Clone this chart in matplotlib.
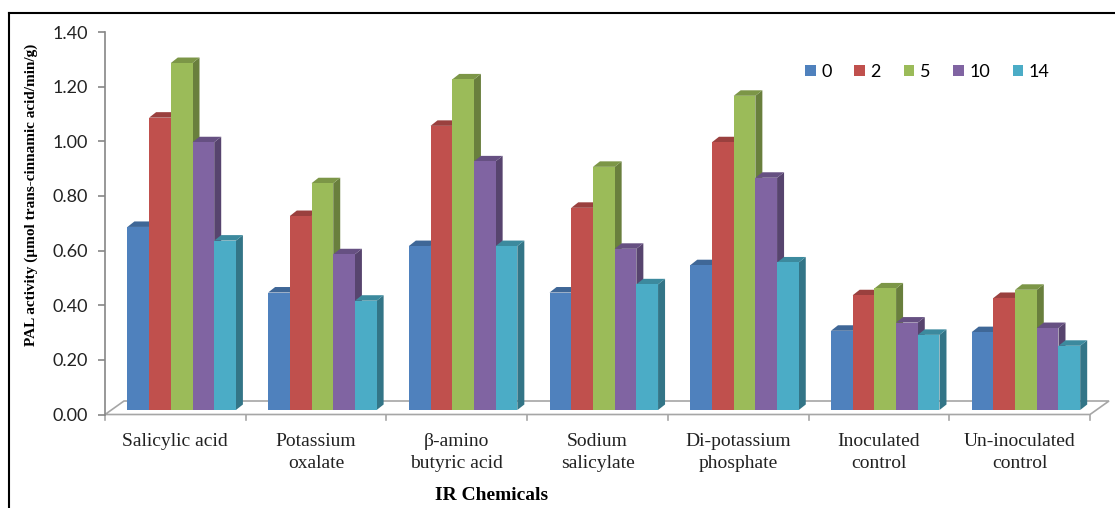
import matplotlib.pyplot as plt
from matplotlib.patches import Polygon, Patch
from matplotlib.lines import Line2D
import numpy as np

# Treatments (x axis) and sampling days (series)
chemicals = ['Salicylic acid', 'Potassium\noxalate', 'β-amino\nbutyric acid', 'Sodium\nsalicylate',
             'Di-potassium\nphosphate', 'Inoculated\ncontrol', 'Un-inoculated\ncontrol']
days = ['0', '2', '5', '10', '14']

# PAL activity per day, one value per chemical
day0 = [0.67, 0.43, 0.60, 0.43, 0.53, 0.29, 0.285]
day2 = [1.07, 0.71, 1.04, 0.74, 0.98, 0.42, 0.41]
day5 = [1.27, 0.83, 1.21, 0.89, 1.15, 0.445, 0.44]
day10 = [0.98, 0.57, 0.91, 0.59, 0.85, 0.32, 0.30]
day14 = [0.62, 0.40, 0.60, 0.46, 0.54, 0.275, 0.235]
series = [day0, day2, day5, day10, day14]

colors = ['#4F81BD', '#C0504D', '#9BBB59', '#8064A2', '#4BACC6']

W, H = 1115, 508
fig = plt.figure(figsize=(W / 100, H / 100), dpi=100)

# axes placed in pixel units: x from 105 to 1090, y=0 at 414.5 and 1.4 at 32
y0_px, y1_px = 414.5, 32.0
ax = fig.add_axes([105 / W, (H - y0_px) / H, (1090 - 105) / W, (y0_px - y1_px) / H])
ax.set_xlim(0, 7)
ax.set_ylim(0, 1.4)

px_x = 7 / (1090 - 105)           # category units per pixel
px_y = 1.4 / (y0_px - y1_px)      # value units per pixel


def darken(c, f):
    r, g, b = [int(c[i:i + 2], 16) / 255 for i in (1, 3, 5)]
    return (r * f, g * f, b * f)


# floor of the 3D plot
fdx, fdy = 19 * px_x, 13.5 * px_y
floor = Polygon([(0, 0), (7, 0), (7 + fdx, fdy), (fdx, fdy)], closed=True,
                facecolor='white', edgecolor='#A6A6A6', lw=1.2, clip_on=False, zorder=1)
ax.add_patch(floor)
for k in range(8):
    ax.plot([k, k], [0, -5 * px_y], color='#A6A6A6', lw=1.2, clip_on=False, zorder=1)

# bars with front, top and side faces
bw = 21.7 * px_x
ddx, ddy = 7 * px_x, 5.5 * px_y        # depth of each bar
bx0, by0 = 6.3 * px_x, 4.5 * px_y      # bars sit part way back on the floor
gap = (1 - 5 * bw) / 2
for c in range(len(chemicals)):
    for s, vals in enumerate(series):
        v = vals[c]
        x = c + gap + bx0 + s * bw
        b = by0
        col = colors[s]
        side = Polygon([(x + bw, b), (x + bw + ddx, b + ddy), (x + bw + ddx, b + v + ddy), (x + bw, b + v)],
                       closed=True, facecolor=darken(col, 0.68), edgecolor='none', clip_on=False, zorder=2)
        top = Polygon([(x, b + v), (x + bw, b + v), (x + bw + ddx, b + v + ddy), (x + ddx, b + v + ddy)],
                      closed=True, facecolor=darken(col, 0.8), edgecolor='none', clip_on=False, zorder=2)
        ax.add_patch(side)
        ax.add_patch(top)
        ax.bar(x, v, width=bw, bottom=b, align='edge', color=col, edgecolor='none',
               clip_on=False, zorder=2)

# axes styling
for sp in ['top', 'right', 'bottom']:
    ax.spines[sp].set_visible(False)
ax.spines['left'].set_color('#868686')
ax.spines['left'].set_linewidth(1.2)
ax.set_yticks(np.arange(0, 1.41, 0.2))
ax.set_yticklabels(['%.2f' % t for t in np.arange(0, 1.41, 0.2)], fontsize=13, family='Lato',
                   color='#222222')
ax.tick_params(axis='y', direction='out', length=5, width=1.2, color='#868686', pad=7)
ax.set_xticks([])

for c, name in enumerate(chemicals):
    ax.text(c + 0.5, -18 * px_y, name, ha='center', va='top', fontsize=14, color='#222222',
            family='Liberation Serif', linespacing=1.4, clip_on=False)

fig.text(492 / W, 1 - 495 / H, 'IR Chemicals', ha='center', va='center', fontsize=14,
         fontweight='bold', family='Liberation Serif')
fig.text(31 / W, 1 - 195 / H, 'PAL activity (µmol trans-cinnamic acid/min/g)', ha='center',
         va='center', rotation=90, fontsize=11, fontweight='bold', family='Liberation Serif')

handles = [Patch(facecolor=col, edgecolor='none') for col in colors]
fig.legend(handles, days, loc='center left', bbox_to_anchor=(789 / W, 1 - 72 / H), ncol=5,
           frameon=False, handlelength=0.6, handleheight=0.6, handletextpad=0.3,
           columnspacing=1.25, prop={'family': 'Lato', 'size': 13})

# frame lines around the chart area
fig.add_artist(Line2D([9 / W, 9 / W], [0, 1 - 13 / H], color='black', lw=1.5))
fig.add_artist(Line2D([9 / W, 1114 / W], [1 - 13 / H, 1 - 13 / H], color='black', lw=1.5))

fig.savefig('out.png', dpi=100)
